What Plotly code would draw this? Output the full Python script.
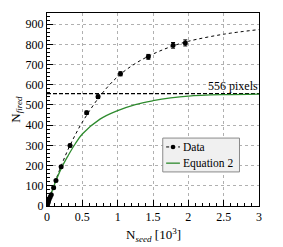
import plotly.graph_objects as go

# Data points (N_seed in 10^3, N_fired)
data_x = [0.005, 0.012, 0.02, 0.03, 0.045, 0.06, 0.094, 0.127, 0.2, 0.326, 0.561, 0.722, 1.04, 1.434, 1.784, 1.957]
data_y = [5, 14, 22, 33, 45, 56, 90, 126, 194, 299, 462, 541, 654, 738, 795, 807]
data_err = [2, 2, 2, 3, 3, 3, 4, 5, 6, 7, 8, 9, 10, 12, 14, 15]

# Dotted fit curve through data
fit_x = [0, 0.1, 0.2, 0.3, 0.4, 0.5, 0.75, 1.0, 1.25, 1.5, 1.75, 2.0, 2.5, 3.0]
fit_y = [0, 105, 198, 281, 352, 415, 544, 640, 705, 752, 788, 815, 850, 873]

# Equation 2 curve (green)
eq_x = [0, 0.1, 0.2, 0.3, 0.4, 0.5, 0.75, 1.0, 1.25, 1.5, 1.75, 2.0, 2.5, 3.0]
eq_y = [0, 101, 185, 250, 308, 356, 430, 472, 502, 521, 535, 544, 551, 554]

limit_value = 556
limit_label = "556 pixels"
legend_labels = ["Data", "Equation 2"]

font_family = "Liberation Serif, DejaVu Serif, Times New Roman, serif"
green = "#2e8b2e"

fig = go.Figure()

fig.add_trace(go.Scatter(
    x=fit_x, y=fit_y, mode="lines", line=dict(color="black", width=1, dash="dot", shape="spline"),
    showlegend=False, hoverinfo="skip"))

fig.add_trace(go.Scatter(
    x=[0, 3], y=[limit_value, limit_value], mode="lines",
    line=dict(color="black", width=1.1, dash="4px,2px"), showlegend=False))

fig.add_trace(go.Scatter(
    x=eq_x, y=eq_y, mode="lines", line=dict(color=green, width=1.3, shape="spline"),
    showlegend=False))

fig.add_trace(go.Scatter(
    x=data_x, y=data_y, mode="markers",
    marker=dict(color="black", size=5),
    error_y=dict(type="data", array=data_err, color="black", thickness=1, width=2),
    showlegend=False))

fig.add_annotation(x=3, y=limit_value, text=limit_label, showarrow=False,
                   xanchor="right", yanchor="bottom", yshift=-1, xshift=1,
                   font=dict(family=font_family, size=12, color="black"))

# axis titles as annotations
fig.add_annotation(xref="paper", yref="paper", x=0.5, y=-0.148, showarrow=False,
                   text="N<sub><i>seed</i></sub> [10<sup>3</sup>]",
                   xanchor="center", yanchor="middle",
                   font=dict(family=font_family, size=13, color="black"))
fig.add_annotation(xref="paper", yref="paper", x=-0.145, y=0.5, showarrow=False,
                   text="N<sub><i>fired</i></sub>", textangle=-90,
                   xanchor="center", yanchor="middle",
                   font=dict(family=font_family, size=13, color="black"))

# hand-drawn legend box (paper coordinates)
lx0, lx1, ly0, ly1 = 0.546, 0.908, 0.1765, 0.352
fig.add_shape(type="rect", xref="paper", yref="paper", x0=lx0, x1=lx1, y0=ly0, y1=ly1,
              fillcolor="#f0f0f0", line=dict(color="#8a8a8a", width=1), layer="above")
entry_y = [0.306, 0.222]
sx0, sx1 = 0.562, 0.627
fig.add_shape(type="line", xref="paper", yref="paper", x0=sx0, x1=sx1, y0=entry_y[0], y1=entry_y[0],
              line=dict(color="black", width=1, dash="dot"), layer="above")
mx = (sx0 + sx1) / 2
fig.add_shape(type="circle", xref="paper", yref="paper",
              x0=mx - 0.011, x1=mx + 0.011, y0=entry_y[0] - 0.012, y1=entry_y[0] + 0.012,
              fillcolor="black", line=dict(color="black", width=0), layer="above")
fig.add_shape(type="line", xref="paper", yref="paper", x0=sx0, x1=sx1, y0=entry_y[1], y1=entry_y[1],
              line=dict(color=green, width=1.3), layer="above")
for lbl, yy in zip(legend_labels, entry_y):
    fig.add_annotation(xref="paper", yref="paper", x=0.633, y=yy, text=lbl, showarrow=False,
                       xanchor="left", yanchor="middle",
                       font=dict(family=font_family, size=11.5, color="black"))

axis_common = dict(
    showline=True, linecolor="black", linewidth=1, mirror=True,
    ticks="inside", ticklen=6, tickcolor="black",
    showgrid=True, gridcolor="#b0b0b0", griddash="dot", gridwidth=1,
    zeroline=False,
    tickfont=dict(family=font_family, size=12, color="black"),
    automargin=False,
)

fig.update_xaxes(
    range=[0, 3], tickvals=[0, 0.5, 1, 1.5, 2, 2.5, 3],
    ticktext=["0", "0.5", "1", "1.5", "2", "2.5", "3"],
    minor=dict(ticks="inside", ticklen=3, dtick=0.1, tickcolor="black", showgrid=False),
    **axis_common)

fig.update_yaxes(
    range=[0, 955], tick0=0, dtick=100,
    minor=dict(ticks="inside", ticklen=3, dtick=20, tickcolor="black", showgrid=False),
    **axis_common)

fig.update_layout(
    width=283, height=247,
    margin=dict(l=47, r=24, t=13, b=41),
    paper_bgcolor="white", plot_bgcolor="white",
    font=dict(family=font_family, size=12, color="black"),
    showlegend=False,
)

fig.write_html("out.html", config={"displayModeBar": False},
               post_script="document.body.style.margin='0';document.body.style.overflow='hidden';")
